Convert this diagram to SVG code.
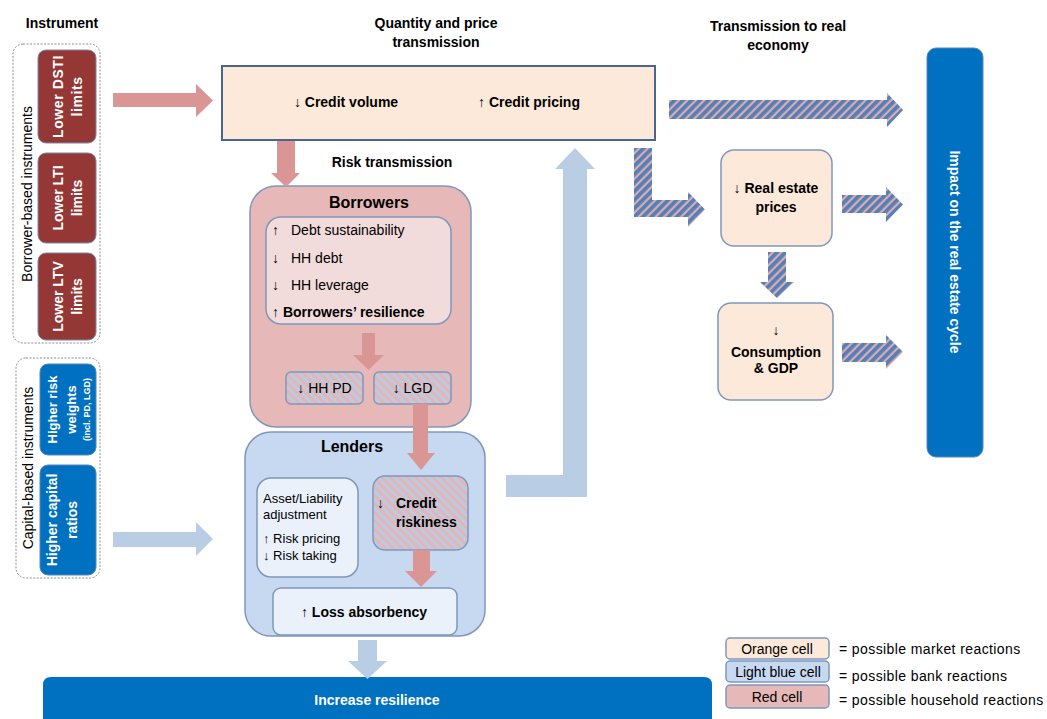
<svg xmlns="http://www.w3.org/2000/svg" width="1047" height="719" viewBox="0 0 1047 719">
  <style>
    text { font-family: "Liberation Sans", Arial, sans-serif; fill: #000; }
    .b { font-weight: bold; }
    .h { font-size: 14px; font-weight: bold; text-anchor: middle; }
    .w { fill: #fff; font-weight: bold; }
    .dash { fill: #fff; stroke: #8c8c8c; stroke-width: 1; stroke-dasharray: 2 1.5; }
    .red { fill: #953735; stroke: #7a8aa8; stroke-width: 1; }
    .blue { fill: #0070c0; stroke: #5a86b8; stroke-width: 1; }
    .orange { fill: #fde9d9; stroke: #7f97bd; stroke-width: 1.5; }
    .pinkbox { fill: #e6b9b8; stroke: #7f97bd; stroke-width: 1.5; }
    .lightpink { fill: #f2dcdb; stroke: #7f97bd; stroke-width: 1.5; }
    .lblue { fill: #c6d9f1; stroke: #7f97bd; stroke-width: 1.5; }
    .vlblue { fill: #eaf1fa; stroke: #7f97bd; stroke-width: 1.5; }
    .mixbox { fill: url(#mixBox); stroke: #7f97bd; stroke-width: 1.5; }
    .pa { fill: #d99694; }
    .ba { fill: #b9cde5; }
    .ha { fill: url(#mixArrow); }
    .lg { font-size: 14px; letter-spacing: 0.4px; }
  </style>
  <defs>
    <!-- blue/salmon stripes for the transmission arrows -->
    <pattern id="mixArrow" width="6" height="6" patternUnits="userSpaceOnUse" patternTransform="rotate(45)">
      <rect width="6" height="6" fill="#e6a9a7"/>
      <rect width="3.8" height="6" fill="#4f81bd"/>
    </pattern>
    <!-- light blue/pink stripes for mixed-reaction cells -->
    <pattern id="mixBox" width="6" height="6" patternUnits="userSpaceOnUse" patternTransform="rotate(-45)">
      <rect width="6" height="6" fill="#e8b4b3"/>
      <rect width="3" height="6" fill="#b8cce4"/>
    </pattern>
  </defs>

  <!-- column headings -->
  <g id="headings">
    <text class="h" x="62" y="28">Instrument</text>
    <text class="h" x="436" y="28">Quantity and price</text>
    <text class="h" x="436" y="47">transmission</text>
    <text class="h" x="778" y="31">Transmission to real</text>
    <text class="h" x="778" y="50">economy</text>
  </g>

  <!-- borrower-based instruments -->
  <g id="borrower-based">
    <rect class="dash" x="13" y="44" width="87" height="299" rx="10"/>
    <text font-size="14" text-anchor="middle" transform="translate(32,194) rotate(-90)">Borrower-based instruments</text>
  </g>
  <g id="dsti">
    <rect class="red" x="38" y="50" width="58" height="93" rx="8"/>
    <text class="w" font-size="14" text-anchor="middle" letter-spacing="0.6" transform="translate(67,96.5) rotate(-90)"><tspan x="0" y="-4">Lower DSTI</tspan><tspan x="0" y="15">limits</tspan></text>
  </g>
  <g id="lti">
    <rect class="red" x="38" y="153" width="58" height="90" rx="8"/>
    <text class="w" font-size="14" text-anchor="middle" transform="translate(67,198) rotate(-90)"><tspan x="0" y="-4">Lower LTI</tspan><tspan x="0" y="15">limits</tspan></text>
  </g>
  <g id="ltv">
    <rect class="red" x="38" y="253" width="58" height="87" rx="8"/>
    <text class="w" font-size="14" text-anchor="middle" transform="translate(67,296.5) rotate(-90)"><tspan x="0" y="-4">Lower LTV</tspan><tspan x="0" y="15">limits</tspan></text>
  </g>

  <!-- capital-based instruments -->
  <g id="capital-based">
    <rect class="dash" x="16" y="358" width="84" height="220" rx="10"/>
    <text font-size="14" text-anchor="middle" transform="translate(33,468) rotate(-90)">Capital-based instruments</text>
  </g>
  <g id="risk-weights">
    <rect class="blue" x="40" y="364" width="56" height="91" rx="8"/>
    <text class="w" font-size="13" text-anchor="middle" transform="translate(68,409.5) rotate(-90)"><tspan x="0" y="-11">Higher risk</tspan><tspan x="0" y="8">weights</tspan><tspan x="0" y="22" font-size="9">(incl. PD, LGD)</tspan></text>
  </g>
  <g id="capital-ratios">
    <rect class="blue" x="40" y="465" width="56" height="110" rx="8"/>
    <text class="w" font-size="14" text-anchor="middle" transform="translate(68,520) rotate(-90)"><tspan x="0" y="-11">Higher capital</tspan><tspan x="0" y="9">ratios</tspan></text>
  </g>

  <!-- quantity and price channel -->
  <g id="credit">
    <rect x="222" y="66" width="433" height="74" fill="#fde9d9" stroke="#4a6690" stroke-width="2"/>
    <text class="b" font-size="14" text-anchor="middle" x="346" y="107">↓ Credit volume</text>
    <text class="b" font-size="14" text-anchor="middle" x="529" y="107">↑ Credit pricing</text>
  </g>
  <g id="risk-label">
    <text class="b" font-size="14" text-anchor="middle" x="392" y="167">Risk transmission</text>
  </g>

  <!-- borrowers -->
  <g id="borrowers">
    <rect class="pinkbox" x="250" y="186" width="221" height="241" rx="26"/>
    <text class="b" font-size="16" text-anchor="middle" x="369" y="208">Borrowers</text>
    <rect class="lightpink" x="266" y="217" width="185" height="107" rx="15"/>
    <text font-size="14" x="272" y="235">↑</text>
    <text font-size="14" x="291" y="235">Debt sustainability</text>
    <text font-size="14" x="272" y="263">↓</text>
    <text font-size="14" x="291" y="263">HH debt</text>
    <text font-size="14" x="272" y="290">↓</text>
    <text font-size="14" x="291" y="290">HH leverage</text>
    <text class="b" font-size="14" x="272" y="317">↑ Borrowers’ resilience</text>
  </g>
  <g id="hh-pd">
    <rect class="mixbox" x="286" y="372" width="77" height="32" rx="5"/>
    <text font-size="14" text-anchor="middle" x="324.5" y="393">↓ HH PD</text>
  </g>
  <g id="lgd">
    <rect class="mixbox" x="374" y="372" width="77" height="32" rx="5"/>
    <text font-size="14" text-anchor="middle" x="412.5" y="393">↓ LGD</text>
  </g>

  <!-- lenders -->
  <g id="lenders">
    <rect class="lblue" x="245" y="432" width="240" height="204" rx="26"/>
    <text class="b" font-size="16" text-anchor="middle" x="352" y="452">Lenders</text>
  </g>
  <g id="asset-liability">
    <rect class="vlblue" x="257" y="478" width="101" height="99" rx="14"/>
    <text font-size="13" x="263" y="503">Asset/Liability</text>
    <text font-size="13" x="263" y="519">adjustment</text>
    <text font-size="13" x="263" y="543">↑ Risk pricing</text>
    <text font-size="13" x="263" y="560">↓ Risk taking</text>
  </g>
  <g id="credit-riskiness">
    <rect class="mixbox" x="373" y="476" width="95" height="74" rx="12"/>
    <text font-size="14" x="377" y="508">↓</text>
    <text class="b" font-size="14" x="396" y="508">Credit</text>
    <text class="b" font-size="14" x="396" y="527">riskiness</text>
  </g>
  <g id="loss-absorbency">
    <rect class="vlblue" x="273" y="588" width="184" height="47" rx="8"/>
    <text class="b" font-size="14" text-anchor="middle" x="364" y="617">↑ Loss absorbency</text>
  </g>

  <!-- outcome bars -->
  <g id="increase-resilience">
    <path d="M43,730 V685 Q43,677 51,677 H704 Q712,677 712,685 V730 Z" fill="#0070c0"/>
    <text class="w" font-size="14" text-anchor="middle" x="377" y="705">Increase resilience</text>
  </g>
  <g id="impact">
    <rect x="927" y="48" width="56" height="409" rx="9" fill="#0070c0" stroke="#5a86b8" stroke-width="1"/>
    <text class="w" font-size="14" text-anchor="middle" transform="translate(950,252) rotate(90)">Impact on the real estate cycle</text>
  </g>

  <!-- real economy -->
  <g id="real-estate">
    <rect class="orange" x="721" y="150" width="111" height="96" rx="13"/>
    <text class="b" font-size="14" text-anchor="middle" x="776" y="193">↓ Real estate</text>
    <text class="b" font-size="14" text-anchor="middle" x="776" y="212">prices</text>
  </g>
  <g id="consumption">
    <rect class="orange" x="718" y="303" width="115" height="97" rx="13"/>
    <text class="b" font-size="14" text-anchor="middle" x="776" y="335">↓</text>
    <text class="b" font-size="14" text-anchor="middle" x="776" y="357">Consumption</text>
    <text class="b" font-size="14" text-anchor="middle" x="776" y="373">&amp; GDP</text>
  </g>

  <!-- legend -->
  <g id="legend">
    <rect class="orange" x="726" y="638" width="103" height="21" rx="4"/>
    <text font-size="14" text-anchor="middle" x="777" y="654">Orange cell</text>
    <rect class="lblue" x="726" y="661" width="103" height="21" rx="4"/>
    <text font-size="14" text-anchor="middle" x="778" y="677">Light blue cell</text>
    <rect class="pinkbox" x="726" y="685" width="103" height="23" rx="4"/>
    <text font-size="14" text-anchor="middle" x="777" y="702">Red cell</text>
    <text class="lg" x="839" y="654">= possible market reactions</text>
    <text class="lg" x="839" y="681">= possible bank reactions</text>
    <text class="lg" x="839" y="705">= possible household reactions</text>
  </g>

  <!-- connectors -->
  <g id="connectors">
    <polygon class="pa" points="113,93 196,93 196,84 213,100.5 196,117 196,107 113,107"/>
    <polygon class="ba" points="113,532 196,532 196,522 213,539 196,556 196,547 113,547"/>
    <polygon class="pa" points="277,141 295,141 295,173 300,173 286,187 271,173 277,173"/>
    <polygon class="ba" points="506,475 563,475 563,169 555,169 575,148 595,169 587,169 587,497 506,497"/>
    <polygon class="pa" points="362,333 375,333 375,355 384,355 368.5,370 353,355 362,355"/>
    <polygon class="pa" points="413,404 428,404 428,453 435,453 421,470 407,453 413,453"/>
    <polygon class="pa" points="413,550 430,550 430,571 437,571 421,587 405,571 413,571"/>
    <polygon class="ba" points="358,640 377,640 377,661 387,661 367.5,679 348,661 358,661"/>
    <polygon class="ha" points="669,100 887,100 887,93 903,110 887,127 887,119 669,119"/>
    <polygon class="ha" points="634,148 652,148 652,200 688,200 688,192 705,209.5 688,227 688,217 634,217"/>
    <polygon class="ha" points="842,195 886,195 886,187 903,204.5 886,222 886,213 842,213"/>
    <polygon class="ha" points="842,343 886,343 886,335 903,352 886,369 886,362 842,362"/>
    <polygon class="ha" points="768,252 786,252 786,282 794,282 777,298 760,282 768,282"/>
  </g>
</svg>
